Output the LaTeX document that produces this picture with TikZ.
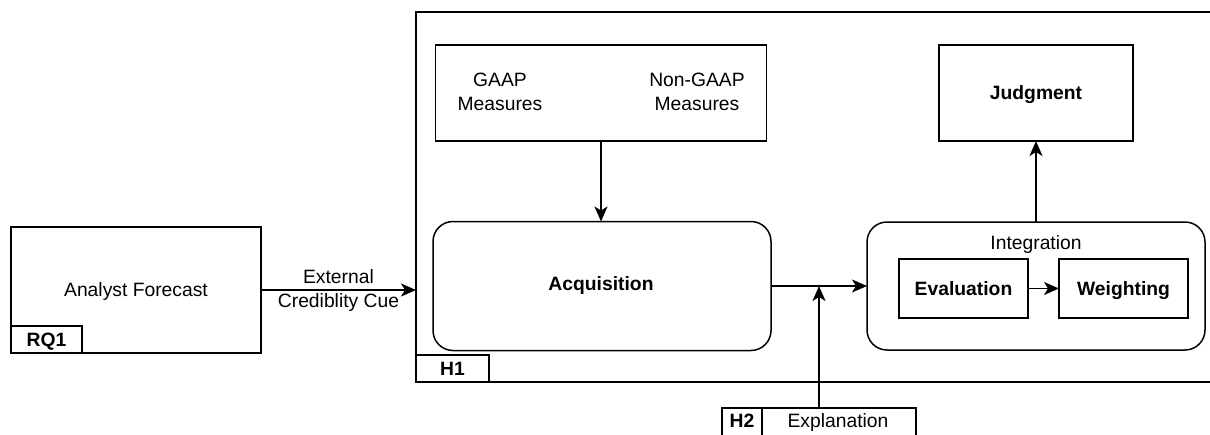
\documentclass[tikz,border=0pt]{standalone}
\usepackage{fontspec}
\setmainfont{Liberation Sans}
\usetikzlibrary{arrows.meta}
\begin{document}
\begin{tikzpicture}[x=1pt,y=-1pt,
  every node/.style={font=\fontsize{19.3}{24}\selectfont, inner sep=0pt, outer sep=0pt, text height=13pt, text depth=0pt},
  box/.style={draw, line width=1.5pt, rectangle, align=center},
  rbox/.style={box, rounded corners=20pt},
  tab/.style={draw, line width=1.5pt, rectangle, font=\fontsize{19.3}{24}\selectfont\bfseries},
  conn/.style={line width=1.5pt, -{Stealth[length=15pt,width=13pt,inset=4pt]}},
  bold/.style={font=\fontsize{19.3}{24}\selectfont\bfseries}
]
\useasboundingbox (0,0) rectangle (1210,434);
\fill[white] (0,0) rectangle (1210,434);

% outer H1 frame (extends beyond right edge)
\node[box, minimum width=830pt, minimum height=370pt] (frame) at (831,197) {};
\node[tab, minimum width=73pt, minimum height=27pt] (h1) at (452.5,368.5) {H1};

% Analyst forecast
\node[box, minimum width=250pt, minimum height=126pt] (af) at (136,290) {Analyst Forecast};
\node[tab, minimum width=71pt, minimum height=27pt] (rq1) at (46.5,339.5) {RQ1};

% GAAP box
\node[box, minimum width=331pt, minimum height=96pt] (gaap) at (601,93) {};
\node[align=center, text height=, text depth=] (gtxt) at (500,92) {GAAP\\Measures};
\node[align=center, text height=, text depth=] (ngtxt) at (697,92) {Non-GAAP\\Measures};

% Acquisition
\node[rbox, minimum width=338pt, minimum height=129pt] (acq) at (602,286) {};
\node[bold] (acqtxt) at (601,284) {Acquisition};

% Integration
\node[rbox, minimum width=338pt, minimum height=128pt] (integ) at (1036,286) {};
\node (itxt) at (1036,243) {Integration};
\node[box, bold, minimum width=129pt, minimum height=59pt] (eval) at (963.5,288.5) {Evaluation};
\node[box, bold, minimum width=129pt, minimum height=59pt] (weigh) at (1123.5,288.5) {Weighting};

% Judgment
\node[box, bold, minimum width=194pt, minimum height=96pt] (judg) at (1036,93) {Judgment};

% H2 Explanation
\node[box, minimum width=194pt, minimum height=44pt] (h2box) at (819,430) {};
\node[tab, minimum width=40pt, minimum height=44pt] (h2tab) at (742,430) {};
\node[bold] (h2lbl) at (742,421) {H2};
\node (expl) at (838,421) {Explanation};

% connectors
\draw[conn] (af.east) -- (af.east -| frame.west)
  node[midway, above=7pt] (ext) {External}
  node[midway, below=4.5pt] (cue) {Crediblity Cue};
\draw[conn] (gaap.south) -- (gaap.south |- acq.north);
\draw[conn] (acq.east) -- (acq.east -| integ.west);
\coordinate (h2top) at (819,408);
\coordinate (join) at (819,286);
\draw[conn] (h2top) -- (join);
\draw[conn] (eval.east) -- (weigh.west);
\draw[conn] (integ.north) -- (judg.south);
\end{tikzpicture}
\end{document}
